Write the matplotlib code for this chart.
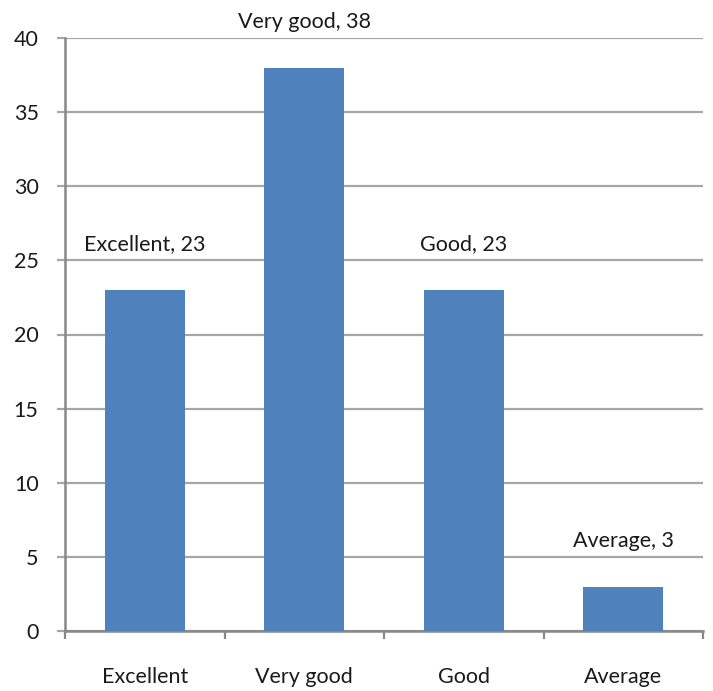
import matplotlib.pyplot as plt
import numpy as np

categories = ["Excellent", "Very good", "Good", "Average"]
values = [23, 38, 23, 3]
yticks = [0, 5, 10, 15, 20, 25, 30, 35, 40]

plt.rcParams['font.family'] = ['Lato', 'DejaVu Sans']

fig = plt.figure(figsize=(7.13, 6.91), dpi=100)
ax = fig.add_axes([65/713, 1 - 631/691, (703 - 65)/713, (631 - 38)/691])

x = np.arange(len(categories))
ax.bar(x, values, width=0.5, color="#4F81BD", zorder=3)

for xi, v, c in zip(x, values, categories):
    ax.annotate(f"{c}, {v}", (xi, v), xytext=(0, 33), textcoords="offset points",
                ha="center", va="center", fontsize=15.5, color="#1a1a1a")

ax.set_xlim(-0.5, 3.5)
ax.set_ylim(0, 40)
ax.set_yticks(yticks)
ax.yaxis.grid(True, color="#A6A6A6", linewidth=1.6, zorder=0)
ax.set_axisbelow(True)

ax.set_xticks(x)
ax.set_xticklabels(categories)
ax.set_xticks(np.arange(-0.5, 4, 1), minor=True)
ax.tick_params(axis="x", which="major", length=0, pad=26, labelsize=15.5, labelcolor="#1a1a1a")
ax.tick_params(axis="x", which="minor", length=6, width=1.6, color="#888888")
ax.tick_params(axis="y", length=6, width=1.6, color="#A6A6A6", pad=13, labelsize=15.5, labelcolor="#1a1a1a")

for s in ["top", "right"]:
    ax.spines[s].set_visible(False)
for s in ["left", "bottom"]:
    ax.spines[s].set_color("#888888")
    ax.spines[s].set_linewidth(1.8)

fig.savefig("out.png", dpi=100)
